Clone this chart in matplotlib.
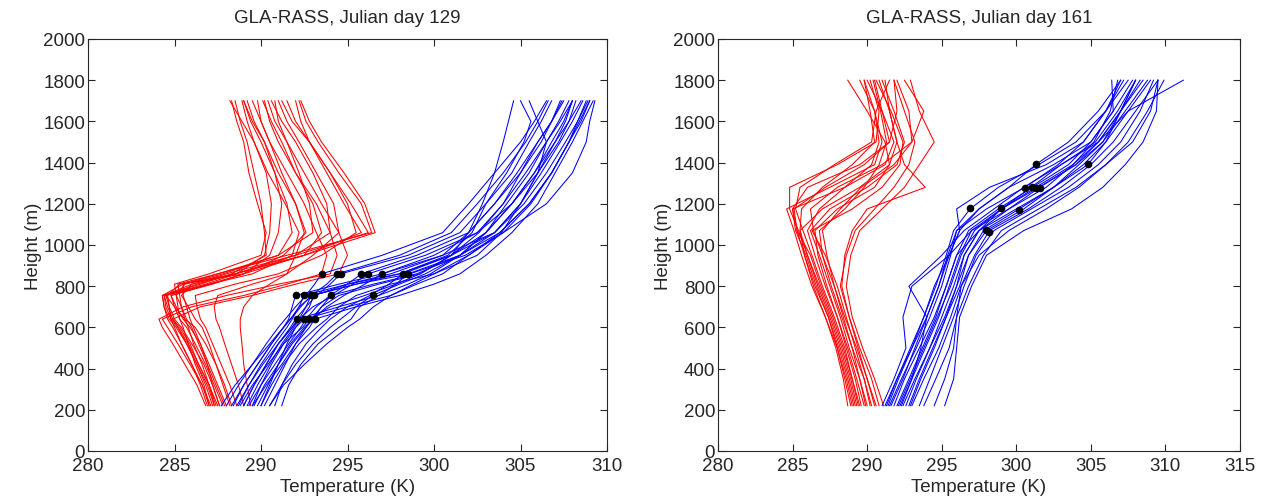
import matplotlib
matplotlib.use("Agg")
import matplotlib.pyplot as plt

plt.rcParams['font.family'] = ['Liberation Sans', 'DejaVu Sans']

# ---------------- Day 129 ----------------
heights_129 = [220, 320, 420, 520, 600, 640, 700, 755, 810, 860, 950, 1060, 1200, 1350, 1500, 1600, 1700]

red_129 = [
    [287.0, 286.6, 286.0, 285.4, 284.9, 284.6, 284.4, 284.3, 285.5, 287.5, 291.5, 296.4, 295.8, 294.5, 293.3, 292.6, 292.2],
    [287.3, 286.9, 286.3, 285.7, 285.2, 284.8, 284.5, 284.4, 286.0, 288.0, 292.0, 296.2, 295.2, 294.0, 292.8, 292.3, 292.0],
    [287.6, 287.2, 286.7, 286.0, 285.4, 285.0, 284.7, 284.5, 286.3, 288.5, 292.5, 296.6, 296.0, 294.8, 293.5, 292.8, 292.3],
    [288.0, 287.5, 287.0, 286.5, 285.9, 285.5, 285.1, 284.8, 287.0, 289.0, 292.5, 295.8, 294.8, 293.8, 292.8, 292.0, 291.5],
    [287.2, 286.8, 286.3, 285.7, 285.1, 284.7, 284.4, 284.3, 286.5, 288.3, 290.3, 290.2, 290.0, 289.6, 289.2, 288.8, 288.5],
    [287.5, 287.0, 286.4, 285.9, 285.3, 284.9, 284.6, 284.4, 286.8, 288.6, 290.2, 290.5, 290.6, 290.3, 289.6, 288.9, 288.2],
    [287.8, 287.3, 286.8, 286.2, 285.7, 285.3, 285.0, 284.8, 287.2, 289.0, 290.5, 291.0, 291.2, 290.8, 290.2, 289.5, 289.0],
    [286.8, 286.3, 285.6, 284.9, 284.3, 284.1, 285.5, 288.0, 291.0, 294.0, 294.4, 294.0, 293.2, 292.0, 291.0, 290.5, 290.2],
    [287.1, 286.6, 285.9, 285.2, 284.6, 284.3, 286.0, 289.0, 291.5, 293.5, 293.8, 293.2, 292.5, 291.5, 290.5, 290.0, 289.8],
    [287.4, 287.0, 286.4, 285.8, 285.2, 284.9, 286.5, 289.5, 292.0, 294.5, 295.0, 294.5, 293.5, 292.5, 291.5, 291.0, 290.8],
    [288.6, 288.2, 287.7, 287.2, 286.8, 286.5, 286.3, 286.2, 288.5, 291.0, 293.5, 295.5, 295.0, 294.0, 292.8, 291.8, 291.2],
    [289.0, 288.7, 288.3, 287.9, 287.6, 287.4, 287.3, 287.5, 289.5, 291.5, 293.0, 294.5, 294.2, 293.2, 292.2, 291.5, 291.0],
    [289.4, 289.2, 289.0, 288.9, 288.8, 288.8, 289.0, 289.5, 290.5, 291.5, 292.0, 292.5, 292.0, 291.2, 290.5, 290.0, 289.5],
    [287.0, 286.7, 286.2, 285.8, 285.5, 285.3, 285.2, 285.1, 285.0, 287.0, 290.0, 290.3, 289.8, 289.3, 289.0, 288.6, 288.3],
    [287.3, 287.0, 286.6, 286.1, 285.8, 285.6, 285.4, 285.3, 285.2, 287.5, 291.0, 291.8, 291.5, 290.8, 290.0, 289.4, 289.0],
    [287.6, 287.2, 286.9, 286.5, 286.1, 285.9, 285.7, 285.5, 285.5, 288.5, 292.5, 293.5, 293.0, 292.0, 291.2, 290.6, 290.1],
    [286.9, 286.5, 286.0, 285.4, 285.0, 284.8, 284.7, 284.6, 285.3, 289.0, 291.3, 292.6, 292.0, 291.0, 290.2, 289.6, 289.2],
    [288.2, 287.8, 287.4, 287.0, 286.6, 286.2, 285.8, 285.4, 286.0, 288.5, 292.0, 294.0, 293.8, 293.0, 292.0, 291.2, 290.6],
    [287.9, 287.4, 286.9, 286.4, 286.0, 285.7, 285.4, 285.1, 285.6, 287.8, 291.0, 293.0, 292.8, 292.2, 291.5, 290.8, 290.4],
    [288.3, 287.9, 287.4, 286.8, 286.2, 285.6, 285.0, 284.5, 287.0, 289.5, 291.8, 292.2, 291.4, 290.4, 289.6, 289.2, 288.9],
]

blue_129 = [
    [289.0, 289.6, 290.3, 291.0, 291.8, 292.1, 294.5, 296.8, 298.5, 299.8, 301.5, 303.0, 304.5, 305.8, 307.0, 307.8, 308.5],
    [289.5, 290.0, 290.6, 291.3, 292.0, 292.5, 295.0, 297.5, 299.0, 300.5, 302.0, 303.8, 305.5, 306.8, 307.8, 308.3, 308.8],
    [288.8, 289.5, 290.4, 291.3, 292.4, 292.8, 294.0, 296.0, 297.8, 299.2, 301.0, 302.6, 304.0, 305.3, 306.5, 307.3, 308.0],
    [290.2, 290.8, 291.4, 292.0, 292.8, 293.1, 295.5, 298.0, 300.0, 301.5, 303.0, 304.5, 306.0, 307.0, 308.0, 308.6, 309.2],
    [288.3, 289.0, 289.8, 290.6, 291.3, 291.6, 291.8, 292.0, 294.5, 297.0, 300.0, 302.5, 304.0, 305.0, 306.0, 306.8, 307.5],
    [288.7, 289.3, 290.0, 290.8, 291.5, 291.8, 292.2, 292.5, 295.0, 298.0, 301.0, 303.5, 305.0, 306.2, 307.3, 308.0, 308.6],
    [289.2, 289.8, 290.5, 291.2, 291.9, 292.2, 292.6, 292.9, 295.5, 298.6, 301.8, 304.0, 305.6, 306.8, 307.8, 308.4, 309.0],
    [290.0, 290.5, 291.0, 291.5, 292.0, 292.3, 292.8, 293.05, 295.0, 297.5, 300.5, 302.0, 303.5, 304.8, 306.0, 306.8, 307.4],
    [289.8, 290.4, 291.0, 291.7, 292.5, 293.0, 293.5, 294.06, 296.5, 299.0, 301.5, 303.0, 304.2, 305.5, 306.5, 307.2, 307.8],
    [290.5, 291.2, 292.0, 293.0, 294.0, 294.6, 295.5, 296.45, 298.0, 299.5, 301.5, 303.5, 305.2, 306.5, 307.6, 308.3, 308.9],
    [288.0, 288.7, 289.5, 290.3, 291.0, 291.4, 292.0, 292.6, 293.1, 293.5, 297.0, 300.5, 302.0, 303.5, 305.0, 305.8, 306.5],
    [288.4, 289.0, 289.8, 290.6, 291.3, 291.7, 292.3, 292.9, 293.8, 294.4, 298.0, 301.0, 302.5, 304.0, 305.3, 306.0, 306.6],
    [289.0, 289.6, 290.3, 291.0, 291.7, 292.0, 292.6, 293.2, 294.0, 294.6, 298.5, 301.5, 303.0, 304.5, 305.5, 306.2, 306.8],
    [289.3, 290.0, 290.8, 291.6, 292.3, 292.6, 293.2, 294.0, 295.0, 295.8, 299.0, 302.0, 303.5, 305.0, 306.2, 306.8, 307.3],
    [288.6, 289.3, 290.1, 291.0, 291.8, 292.2, 293.0, 294.2, 295.3, 296.2, 299.5, 302.5, 304.5, 306.0, 307.2, 307.8, 308.2],
    [289.6, 290.2, 291.0, 291.8, 292.6, 293.0, 293.8, 294.8, 296.0, 297.0, 300.5, 303.5, 305.0, 306.0, 307.0, 307.6, 308.0],
    [290.8, 291.2, 291.8, 292.6, 293.5, 294.0, 295.0, 296.3, 297.4, 298.2, 301.0, 303.0, 304.5, 305.8, 306.8, 307.5, 308.0],
    [291.2, 291.6, 292.3, 293.3, 294.5, 295.2, 295.7, 296.8, 297.8, 298.5, 301.5, 303.8, 305.5, 306.8, 307.8, 308.5, 309.0],
    [290.0, 290.6, 291.3, 292.2, 293.2, 293.8, 294.5, 295.5, 297.5, 300.0, 302.5, 303.9, 305.0, 306.0, 306.5, 306.0, 305.5],
    [289.5, 290.3, 291.2, 292.0, 292.6, 292.9, 293.5, 294.5, 296.8, 299.2, 301.0, 302.0, 302.8, 303.5, 304.0, 304.3, 304.6],
    [290.5, 291.3, 292.5, 293.8, 295.0, 295.7, 296.5, 297.5, 298.8, 300.0, 302.0, 304.0, 306.5, 308.0, 308.8, 309.0, 309.3],
    [287.7, 288.5, 289.5, 290.5, 291.3, 291.7, 292.2, 293.0, 295.5, 298.0, 300.8, 302.2, 303.0, 304.2, 305.2, 305.6, 305.0],
]

dots_T_129 = [292.1, 292.5, 292.8, 293.1,
              292.0, 292.5, 292.9, 293.05, 294.06, 296.45,
              293.5, 294.4, 294.6, 295.8, 296.2, 297.0, 298.2, 298.5]
dots_H_129 = [642, 642, 642, 642,
              755, 755, 755, 755, 755, 755,
              860, 860, 860, 860, 860, 860, 860, 860]

# ---------------- Day 161 ----------------
heights_161 = [220, 350, 500, 650, 800, 950, 1070, 1175, 1280, 1390, 1500, 1650, 1800]

red_161 = [
    [289.0, 288.6, 288.0, 287.2, 286.3, 285.6, 285.1, 284.6, 287.5, 290.5, 291.0, 290.5, 289.5],
    [289.2, 288.8, 288.2, 287.5, 286.7, 286.0, 285.4, 284.8, 284.8, 288.0, 290.6, 290.8, 290.2],
    [289.5, 289.0, 288.4, 287.7, 286.9, 286.2, 285.3, 285.0, 288.5, 291.2, 291.8, 291.0, 290.0],
    [289.3, 288.9, 288.3, 287.6, 286.8, 286.0, 285.5, 287.0, 289.5, 291.5, 292.0, 291.5, 290.8],
    [289.8, 289.3, 288.7, 288.0, 287.2, 286.5, 286.0, 286.8, 288.5, 290.3, 290.8, 290.5, 289.8],
    [290.0, 289.5, 288.8, 288.2, 287.5, 286.8, 286.2, 287.5, 290.0, 292.0, 292.5, 291.8, 291.0],
    [290.3, 289.8, 289.2, 288.6, 288.0, 287.2, 286.3, 289.0, 291.0, 292.2, 292.4, 291.6, 290.6],
    [290.6, 290.0, 289.4, 288.8, 288.3, 288.5, 289.0, 290.0, 293.9, 292.5, 292.0, 291.5, 291.2],
    [291.1, 290.5, 289.7, 289.0, 288.6, 288.9, 289.5, 291.0, 292.5, 293.5, 294.5, 293.5, 292.9],
    [290.8, 290.3, 289.5, 288.8, 288.2, 288.6, 289.2, 290.5, 291.8, 292.8, 293.2, 292.5, 291.8],
    [288.7, 288.4, 287.9, 287.2, 286.4, 285.8, 285.5, 285.6, 287.0, 289.0, 290.5, 290.2, 289.8],
    [288.9, 288.5, 288.0, 287.4, 286.6, 285.9, 285.2, 285.0, 286.0, 289.5, 291.5, 291.0, 290.5],
    [289.6, 289.2, 288.6, 288.0, 287.3, 286.7, 286.5, 288.0, 290.5, 291.5, 291.2, 290.0, 288.7],
    [290.2, 289.8, 289.0, 288.3, 287.6, 287.0, 286.8, 288.5, 289.8, 290.8, 291.3, 290.9, 290.4],
    [289.4, 289.0, 288.5, 287.8, 287.0, 286.3, 285.7, 285.2, 285.5, 287.8, 290.3, 290.6, 291.5],
    [290.5, 290.0, 289.3, 288.5, 287.8, 287.0, 286.4, 286.2, 288.0, 291.0, 293.0, 293.8, 292.5],
    [289.1, 288.7, 288.1, 287.4, 286.5, 285.8, 285.3, 285.1, 287.2, 289.8, 291.5, 292.0, 291.8],
    [289.9, 289.5, 289.0, 288.4, 287.8, 287.3, 287.0, 288.2, 289.6, 291.8, 293.0, 292.8, 292.0],
]

blue_161 = [
    [291.5, 292.3, 293.3, 294.2, 295.0, 295.6, 296.0, 297.5, 299.5, 301.3, 303.5, 305.5, 307.0],
    [292.0, 292.8, 293.7, 294.6, 295.3, 296.0, 297.5, 300.0, 302.5, 304.8, 306.0, 307.0, 308.0],
    [291.3, 292.0, 293.0, 294.0, 294.8, 295.4, 296.0, 298.0, 300.56, 302.8, 304.5, 306.0, 307.5],
    [291.8, 292.5, 293.5, 294.5, 295.3, 296.0, 296.8, 298.8, 301.08, 303.5, 305.0, 306.5, 307.8],
    [292.3, 293.0, 293.9, 294.8, 295.5, 296.2, 297.0, 299.0, 301.3, 303.8, 305.5, 307.0, 308.5],
    [292.6, 293.3, 294.2, 295.0, 295.8, 296.5, 297.5, 299.5, 301.57, 304.0, 305.8, 307.3, 308.8],
    [291.2, 292.0, 292.9, 293.8, 294.6, 295.3, 295.8, 296.9, 298.8, 301.5, 304.0, 306.0, 307.2],
    [292.1, 292.9, 293.8, 294.7, 295.6, 296.3, 297.2, 299.0, 301.5, 304.0, 305.5, 307.0, 308.3],
    [292.8, 293.5, 294.4, 295.3, 296.2, 296.8, 297.8, 300.2, 302.5, 304.5, 306.0, 307.5, 309.0],
    [292.4, 293.2, 294.2, 295.2, 296.0, 296.8, 298.0, 300.5, 302.5, 304.2, 305.8, 307.0, 308.0],
    [293.0, 293.8, 294.8, 295.6, 296.3, 297.2, 298.2, 300.8, 303.0, 305.0, 306.5, 308.0, 309.5],
    [294.5, 295.2, 295.8, 296.0, 296.3, 297.5, 299.5, 302.0, 304.2, 306.0, 307.5, 308.8, 309.9],
    [295.2, 295.8, 296.0, 296.2, 297.0, 298.0, 300.5, 303.7, 305.8, 307.3, 308.5, 309.4, 309.5],
    [293.5, 294.2, 295.0, 295.8, 296.5, 297.3, 298.5, 301.0, 303.5, 305.5, 307.0, 308.3, 309.2],
    [291.0, 291.8, 292.6, 292.4, 293.0, 295.5, 296.2, 297.5, 299.5, 302.5, 305.0, 306.5, 306.4],
    [292.2, 293.0, 293.6, 294.0, 292.8, 295.0, 296.5, 298.5, 300.5, 303.0, 305.5, 307.5, 311.2],
    [291.6, 292.4, 293.2, 294.0, 294.8, 295.5, 296.2, 296.0, 298.2, 302.0, 304.5, 306.0, 307.0],
    [293.8, 294.6, 295.5, 296.0, 296.8, 297.8, 299.0, 301.5, 304.0, 306.0, 307.8, 309.0, 309.5],
    [291.4, 292.1, 293.0, 293.8, 294.5, 295.5, 297.0, 299.5, 302.0, 303.8, 305.2, 306.3, 306.8],
    [292.9, 293.6, 294.5, 295.3, 296.0, 296.5, 297.5, 299.0, 301.0, 303.0, 305.3, 306.8, 308.0],
]

dots_T_161 = [298.0, 298.2, 296.9, 299.0, 300.2, 300.56, 301.08, 301.3, 301.57, 301.3, 304.8]
dots_H_161 = [1075, 1065, 1178, 1178, 1172, 1278, 1282, 1275, 1278, 1392, 1392]

titles = ["GLA-RASS, Julian day 129", "GLA-RASS, Julian day 161"]
xlims = [(280, 310), (280, 315)]

fig = plt.figure(figsize=(12.67, 5.02), dpi=100)
ax1 = fig.add_axes([88 / 1267, 50 / 502, 519 / 1267, 412 / 502])
ax2 = fig.add_axes([718 / 1267, 50 / 502, 522 / 1267, 412 / 502])

panels = [
    (ax1, heights_129, red_129, blue_129, dots_T_129, dots_H_129),
    (ax2, heights_161, red_161, blue_161, dots_T_161, dots_H_161),
]

FS = 13.5
for i, (ax, hs, reds, blues, dT, dH) in enumerate(panels):
    for prof in reds:
        ax.plot(prof, hs, color='#ff0000', lw=0.75)
    for prof in blues:
        ax.plot(prof, hs, color='#0000ff', lw=0.75)
    ax.plot(dT, dH, 'o', color='black', markersize=5.5, markeredgewidth=0)
    ax.set_xlim(*xlims[i])
    ax.set_ylim(0, 2000)
    ax.set_xticks(range(xlims[i][0], xlims[i][1] + 1, 5))
    ax.set_yticks(range(0, 2001, 200))
    ax.tick_params(direction='in', top=True, right=True, length=5, width=0.8,
                   labelsize=FS, colors='#262626')
    ax.tick_params(axis='x', pad=4)
    ax.tick_params(axis='y', pad=2)
    for s in ax.spines.values():
        s.set_linewidth(0.8)
        s.set_color('#262626')
    ax.set_title(titles[i], fontsize=FS, pad=12, color='#262626')
    ax.set_xlabel("Temperature (K)", fontsize=FS, labelpad=3, color='#262626')
    ax.set_ylabel("Height (m)", fontsize=FS, labelpad=1, color='#262626')

fig.savefig("out.png", dpi=100)
